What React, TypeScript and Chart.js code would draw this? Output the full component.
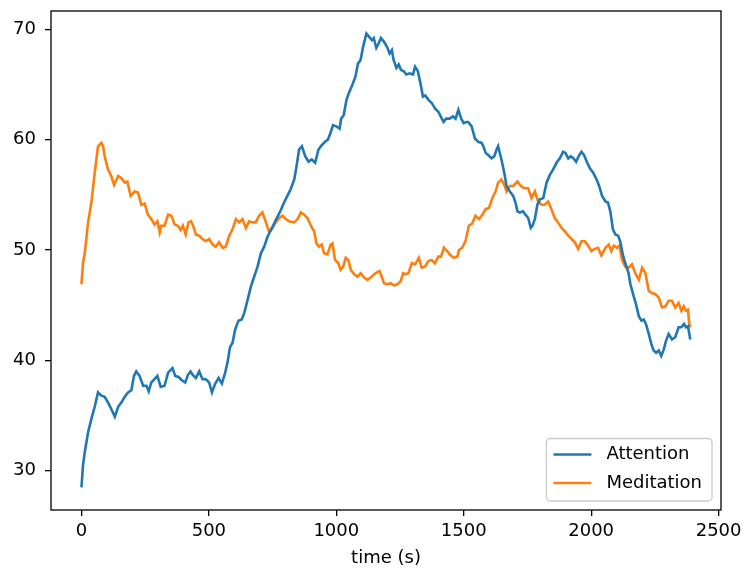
import React, { useEffect, useRef } from "react";
import { Chart, registerables } from "chart.js";

Chart.register(...registerables);

const FONT = "'DejaVu Sans', 'Liberation Sans', sans-serif";

// axis settings
const xTicks = [0, 500, 1000, 1500, 2000, 2500];
const yTicks = [30, 40, 50, 60, 70];
const xRange = [-119.5, 2509.5];
const yRange = [26.45, 71.65];
const xTitle = "time (s)";

// series
const seriesLabels = ["Attention", "Meditation"];
const seriesColors = ["#1f77b4", "#ff7f0e"];

// [time (s), value]
const attention: [number, number][] = [
  [0, 28.5], [6, 30.5], [13, 31.7], [26, 33.5], [39, 34.7], [52, 35.8], [65, 37.1], [78, 36.8],
  [91, 36.7], [104, 36.2], [117, 35.6], [131, 34.9], [144, 35.8], [157, 36.2], [170, 36.7], [183, 37.1],
  [196, 37.3], [206, 38.6], [215, 39.0], [228, 38.6], [242, 37.7], [255, 37.7], [264, 37.2], [274, 38.0],
  [287, 38.3], [298, 38.6], [311, 37.6], [326, 37.7], [340, 38.9], [357, 39.3], [368, 38.6], [381, 38.5],
  [394, 38.2], [407, 38.0], [418, 38.7], [428, 39.0], [436, 38.7], [449, 38.4], [462, 39.0], [475, 38.3],
  [488, 38.3], [501, 38.0], [512, 37.1], [525, 37.9], [538, 38.4], [551, 37.9], [564, 38.9], [573, 39.8],
  [583, 41.2], [593, 41.6], [603, 42.8], [616, 43.6], [629, 43.7], [639, 44.3], [652, 45.5], [665, 46.7],
  [678, 47.6], [691, 48.5], [704, 49.7], [717, 50.3], [730, 51.2], [743, 51.8], [756, 52.4], [769, 53.0],
  [782, 53.6], [795, 54.3], [808, 54.9], [821, 55.5], [835, 56.4], [844, 57.6], [854, 59.1], [865, 59.4],
  [878, 58.5], [891, 58.0], [904, 58.2], [917, 57.9], [930, 59.1], [943, 59.5], [956, 59.8], [967, 60.0],
  [977, 60.6], [987, 61.3], [1000, 61.2], [1013, 61.0], [1019, 61.9], [1029, 62.2], [1040, 63.6], [1049, 64.2],
  [1062, 64.9], [1075, 65.7], [1085, 66.9], [1095, 67.2], [1105, 68.4], [1118, 69.6], [1129, 69.3], [1140, 69.0],
  [1147, 69.2], [1157, 68.3], [1166, 68.7], [1175, 69.2], [1186, 68.9], [1199, 68.4], [1209, 67.8], [1218, 68.1],
  [1225, 67.2], [1236, 66.5], [1245, 66.8], [1254, 66.3], [1264, 66.2], [1275, 65.9], [1288, 66.0], [1301, 65.9],
  [1309, 66.6], [1320, 66.2], [1330, 65.1], [1340, 63.9], [1349, 64.0], [1362, 63.6], [1375, 63.3], [1388, 62.8],
  [1401, 62.5], [1414, 61.9], [1421, 61.6], [1431, 61.9], [1444, 61.9], [1458, 62.1], [1468, 61.9], [1479, 62.7],
  [1490, 61.9], [1500, 61.5], [1511, 61.6], [1518, 61.6], [1531, 61.2], [1544, 60.1], [1557, 59.8], [1570, 59.7],
  [1577, 59.4], [1586, 58.8], [1596, 58.6], [1609, 58.3], [1620, 58.5], [1629, 59.1], [1635, 59.4], [1648, 58.2],
  [1659, 57.0], [1668, 55.8], [1681, 55.3], [1694, 54.9], [1703, 54.3], [1711, 53.5], [1720, 53.4], [1733, 53.5],
  [1742, 53.2], [1753, 52.9], [1763, 52.0], [1770, 52.2], [1779, 52.8], [1789, 54.1], [1799, 54.6], [1812, 54.7],
  [1825, 56.1], [1838, 56.8], [1851, 57.3], [1864, 57.9], [1877, 58.3], [1890, 58.9], [1899, 58.8], [1910, 58.3],
  [1920, 58.5], [1931, 58.3], [1941, 58.0], [1951, 58.5], [1962, 58.9], [1972, 58.6], [1983, 58.0], [1995, 57.4],
  [2008, 57.0], [2021, 56.4], [2030, 55.9], [2043, 54.9], [2056, 54.4], [2066, 54.3], [2076, 53.4], [2085, 51.9],
  [2095, 51.4], [2106, 51.3], [2115, 50.7], [2124, 49.6], [2134, 48.8], [2147, 47.9], [2154, 46.9], [2167, 45.8],
  [2176, 45.1], [2187, 44.0], [2197, 43.6], [2206, 43.7], [2215, 43.3], [2226, 42.4], [2236, 41.5], [2245, 40.9],
  [2255, 40.7], [2265, 40.9], [2275, 40.4], [2285, 41.0], [2294, 41.8], [2304, 42.4], [2317, 41.9], [2330, 42.1],
  [2343, 43.0], [2354, 43.0], [2364, 43.3], [2372, 43.0], [2380, 43.1], [2389, 41.9],
];

const meditation: [number, number][] = [
  [0, 46.9], [6, 48.8], [13, 49.7], [26, 52.5], [39, 54.3], [52, 57.0], [65, 59.4], [78, 59.7],
  [85, 59.4], [91, 58.5], [104, 57.3], [117, 56.7], [128, 55.9], [144, 56.7], [157, 56.5], [170, 56.1],
  [180, 56.2], [193, 54.9], [209, 55.3], [222, 55.2], [235, 54.1], [248, 54.2], [261, 53.2], [274, 52.8],
  [287, 52.3], [298, 52.6], [307, 51.6], [313, 52.2], [326, 52.2], [340, 53.2], [353, 53.1], [366, 52.3],
  [379, 52.2], [389, 51.8], [398, 52.2], [409, 51.4], [420, 52.5], [430, 52.6], [438, 52.2], [449, 51.4],
  [462, 51.3], [475, 51.0], [488, 50.8], [501, 51.0], [515, 50.5], [527, 50.3], [540, 50.7], [554, 50.2],
  [566, 50.3], [580, 51.3], [593, 51.9], [606, 52.8], [619, 52.5], [632, 52.8], [645, 52.0], [658, 52.6],
  [671, 52.5], [684, 52.5], [697, 53.1], [710, 53.4], [724, 52.5], [737, 51.6], [750, 52.0], [762, 52.5],
  [776, 52.9], [789, 53.1], [802, 52.8], [815, 52.6], [835, 52.5], [848, 52.8], [861, 53.4], [874, 53.2],
  [887, 52.9], [900, 52.2], [913, 51.7], [922, 50.6], [932, 50.3], [943, 50.5], [952, 49.7], [965, 49.6],
  [978, 50.5], [985, 50.6], [995, 49.1], [1008, 48.8], [1017, 48.2], [1027, 48.5], [1037, 49.3], [1047, 49.1],
  [1057, 48.2], [1070, 47.8], [1083, 47.6], [1096, 47.9], [1109, 47.5], [1122, 47.3], [1135, 47.5], [1148, 47.8],
  [1161, 48.0], [1170, 48.1], [1178, 47.6], [1187, 47.0], [1200, 46.9], [1213, 47.0], [1226, 46.8], [1240, 46.9],
  [1253, 47.2], [1262, 47.9], [1272, 47.8], [1283, 47.9], [1296, 48.8], [1309, 48.7], [1324, 49.3], [1335, 48.4],
  [1348, 48.5], [1361, 49.0], [1374, 49.1], [1387, 48.8], [1400, 49.4], [1411, 49.4], [1422, 50.2], [1435, 49.9],
  [1449, 49.5], [1462, 49.3], [1475, 49.4], [1481, 50.0], [1494, 50.2], [1507, 50.8], [1520, 52.2], [1533, 52.4],
  [1546, 53.1], [1560, 52.8], [1573, 53.2], [1586, 53.7], [1599, 53.8], [1612, 54.7], [1625, 55.3], [1635, 56.1],
  [1648, 56.4], [1659, 55.9], [1668, 55.3], [1681, 55.8], [1694, 55.8], [1711, 56.2], [1724, 55.8], [1737, 55.6],
  [1753, 55.6], [1766, 54.7], [1779, 55.3], [1792, 54.4], [1805, 54.1], [1818, 54.1], [1831, 54.4], [1844, 53.7],
  [1857, 52.9], [1870, 52.5], [1884, 52.0], [1897, 51.7], [1910, 51.3], [1923, 51.0], [1936, 50.7], [1949, 50.1],
  [1962, 50.8], [1975, 50.8], [1988, 50.4], [2001, 49.9], [2014, 50.1], [2027, 50.2], [2040, 49.5], [2056, 50.2],
  [2069, 50.5], [2079, 49.9], [2089, 50.4], [2102, 50.2], [2111, 50.4], [2121, 49.1], [2134, 48.5], [2147, 48.4],
  [2160, 48.7], [2173, 47.9], [2187, 47.3], [2200, 48.4], [2213, 47.9], [2226, 46.3], [2239, 46.1], [2252, 46.0],
  [2265, 45.7], [2278, 44.8], [2291, 44.9], [2304, 45.4], [2317, 45.4], [2330, 44.8], [2343, 45.2], [2354, 44.5],
  [2363, 44.9], [2372, 44.5], [2380, 44.6], [2385, 43.3], [2389, 43.0],
];

const seriesData = [attention, meditation];

const frameAndLegend = {
  id: "frameAndLegend",
  afterDraw(chart: any) {
    const { ctx, chartArea: a } = chart;
    ctx.save();
    // full axes frame (matplotlib spines)
    ctx.strokeStyle = "#000";
    ctx.lineWidth = 1.3;
    ctx.strokeRect(a.left, a.top, a.right - a.left, a.bottom - a.top);

    // legend, lower right inside the axes
    ctx.font = `18px ${FONT}`;
    const labels: string[] = chart.data.datasets.map((d: any) => d.label);
    const colors: string[] = chart.data.datasets.map((d: any) => d.borderColor);
    const tw = Math.max(...labels.map((l) => ctx.measureText(l).width));
    const pad = 7;
    const handleLen = 38;
    const gap = 15;
    const rowH = 28.5;
    const w = pad + handleLen + gap + tw + pad + 3;
    const h = 62.5;
    const x1 = a.right - 9 - w;
    const y1 = a.bottom - 9 - h;
    const r = 4;
    ctx.beginPath();
    ctx.moveTo(x1 + r, y1);
    ctx.arcTo(x1 + w, y1, x1 + w, y1 + h, r);
    ctx.arcTo(x1 + w, y1 + h, x1, y1 + h, r);
    ctx.arcTo(x1, y1 + h, x1, y1, r);
    ctx.arcTo(x1, y1, x1 + w, y1, r);
    ctx.closePath();
    ctx.fillStyle = "rgba(255,255,255,0.8)";
    ctx.fill();
    ctx.strokeStyle = "#cccccc";
    ctx.lineWidth = 1.3;
    ctx.stroke();

    labels.forEach((label, i) => {
      const y = y1 + 16 + i * rowH;
      ctx.beginPath();
      ctx.strokeStyle = colors[i];
      ctx.lineWidth = 2.6;
      ctx.moveTo(x1 + pad, y);
      ctx.lineTo(x1 + pad + handleLen, y);
      ctx.stroke();
      ctx.fillStyle = "#000";
      ctx.textAlign = "left";
      ctx.textBaseline = "middle";
      ctx.fillText(label, x1 + pad + handleLen + gap, y);
    });
    ctx.restore();
  },
};

export default function App() {
  const ref = useRef<HTMLCanvasElement>(null);

  useEffect(() => {
    document.body.style.margin = "0";
    const canvas = ref.current;
    if (!canvas) return;
    const chart = new Chart(canvas, {
      type: "line",
      data: {
        datasets: seriesLabels.map((label, i) => ({
          label,
          data: seriesData[i].map(([x, y]) => ({ x, y })),
          borderColor: seriesColors[i],
          backgroundColor: seriesColors[i],
          borderWidth: 2.6,
          pointRadius: 0,
          tension: 0,
          fill: false,
        })),
      },
      options: {
        responsive: false,
        devicePixelRatio: 1,
        animation: false,
        events: [],
        layout: { padding: { top: 11, right: 23, left: 0, bottom: 0 } },
        plugins: {
          legend: { display: false },
          tooltip: { enabled: false },
        },
        scales: {
          x: {
            type: "linear",
            min: xRange[0],
            max: xRange[1],
            afterFit: (s: any) => {
              s.height = 59;
              s.paddingLeft = 0;
              s.paddingRight = 0;
              s.paddingTop = 0;
              s.paddingBottom = 0;
            },
            afterBuildTicks: (s: any) => {
              s.ticks = xTicks.map((v) => ({ value: v }));
            },
            ticks: {
              callback: (v: any) => String(v),
              font: { family: FONT, size: 18 },
              color: "#000",
              padding: 5,
              maxRotation: 0,
              autoSkip: false,
            },
            grid: {
              drawOnChartArea: false,
              drawTicks: true,
              tickLength: 6,
              color: "#000",
              lineWidth: 1.3,
            },
            border: { display: false },
            title: {
              display: true,
              text: xTitle,
              font: { family: FONT, size: 18 },
              color: "#000",
              padding: { top: 0, bottom: 0 },
            },
          },
          y: {
            type: "linear",
            min: yRange[0],
            max: yRange[1],
            afterFit: (s: any) => {
              s.width = 51;
              s.paddingLeft = 0;
              s.paddingRight = 0;
              s.paddingTop = 0;
              s.paddingBottom = 0;
            },
            afterBuildTicks: (s: any) => {
              s.ticks = yTicks.map((v) => ({ value: v }));
            },
            ticks: {
              callback: (v: any) => String(v),
              font: { family: FONT, size: 18 },
              color: "#000",
              padding: 9,
            },
            grid: {
              drawOnChartArea: false,
              drawTicks: true,
              tickLength: 6,
              color: "#000",
              lineWidth: 1.3,
            },
            border: { display: false },
          },
        },
      },
      plugins: [frameAndLegend],
    } as any);
    return () => chart.destroy();
  }, []);

  return (
    <div style={{ position: "absolute", left: 0, top: 0, width: 744, height: 569, background: "#fff" }}>
      <canvas ref={ref} width={744} height={569} style={{ display: "block", width: 744, height: 569 }} />
    </div>
  );
}
